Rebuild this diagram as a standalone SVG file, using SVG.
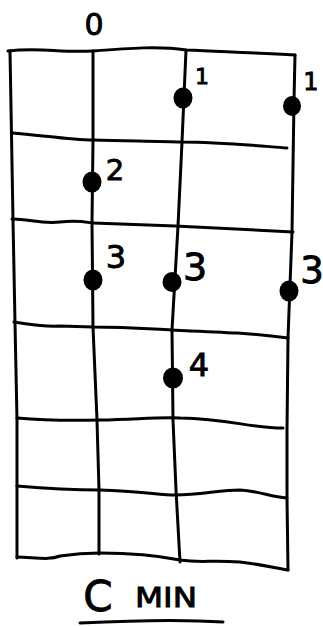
<svg xmlns="http://www.w3.org/2000/svg" width="323" height="626" viewBox="0 0 323 626">
<style>
.ln{fill:none;stroke:#000;stroke-width:3;stroke-linecap:round;stroke-linejoin:round}
.dot{fill:#000}
.t{font-family:"DejaVu Sans","Liberation Sans",sans-serif;fill:#000;stroke:#000;stroke-width:0.9}
</style>
<rect width="323" height="626" fill="#fff"/>
<g id="grid">
<path class="ln" d="M8,51 C40,47 60,53 93,51 C130,48 160,46 186,50 C230,52 260,53 295,55"/>
<path class="ln" d="M10,51 L13,220 L15,323 L17,420 L17,558"/>
<path class="ln" d="M93,51 L93,140 L92,223 L93,327 L97,420 L99,490 L99,554"/>
<path class="ln" d="M186,50 L182,142 L178,226 L172,330 L173,420 L176,490 L180,562"/>
<path class="ln" d="M295,55 L294,100 L292,232 L288,338 L287,430 L287,498 L288,570"/>
<path class="ln" d="M12,133 C40,135 70,140 93,140 C130,141 160,141 182,142 C220,142 260,146 287,148"/>
<path class="ln" d="M12,219 C30,219 40,224 60,222 C80,220 90,223 93,223 L175,226 C220,228 260,230 293,232"/>
<path class="ln" d="M14,322 C30,324 40,327 60,326 L93,327 C130,327 150,329 172,330 C220,332 250,333 288,338"/>
<path class="ln" d="M17,418 C40,420 60,421 100,420 C140,419 160,417 180,418 C230,419 250,428 283,428"/>
<path class="ln" d="M17,486 C40,488 70,490 100,490 C140,491 160,495 175,495 C200,495 220,490 240,490 C260,491 270,497 287,498"/>
<path class="ln" d="M17,557 C40,558 50,560 60,556 C80,553 90,553 100,553 C140,553 160,556 180,560 C200,563 210,560 240,562 C260,564 280,569 288,570"/>
</g>
<g id="dots">
<ellipse class="dot" cx="183" cy="98" rx="9.5" ry="10.5"/>
<ellipse class="dot" cx="292" cy="106" rx="9" ry="10"/>
<ellipse class="dot" cx="92" cy="182" rx="9.5" ry="10.5"/>
<ellipse class="dot" cx="93" cy="280" rx="9.5" ry="10.5"/>
<ellipse class="dot" cx="172" cy="282" rx="9.5" ry="10"/>
<ellipse class="dot" cx="289" cy="291" rx="9.5" ry="10.5"/>
<ellipse class="dot" cx="173" cy="378" rx="10" ry="10.5"/>
</g>
<g id="labels" class="t">
<text x="94" y="35" font-size="30" text-anchor="middle">0</text>
<text x="202" y="84" font-size="22" text-anchor="middle">1</text>
<text x="311" y="90" font-size="24" text-anchor="middle">1</text>
<text x="115" y="180" font-size="29" text-anchor="middle">2</text>
<text x="116" y="268" font-size="32" text-anchor="middle">3</text>
<text x="195" y="280" font-size="38" text-anchor="middle">3</text>
<text x="312" y="283" font-size="37" text-anchor="middle">3</text>
<text x="199" y="376" font-size="32" text-anchor="middle">4</text>
<text x="98" y="611" font-size="42" text-anchor="middle">C</text>
<text x="135" y="607" font-size="27" textLength="62" lengthAdjust="spacingAndGlyphs">MIN</text>
</g>
<path class="ln" d="M80,623 C120,621 180,619 223,622"/>
</svg>
